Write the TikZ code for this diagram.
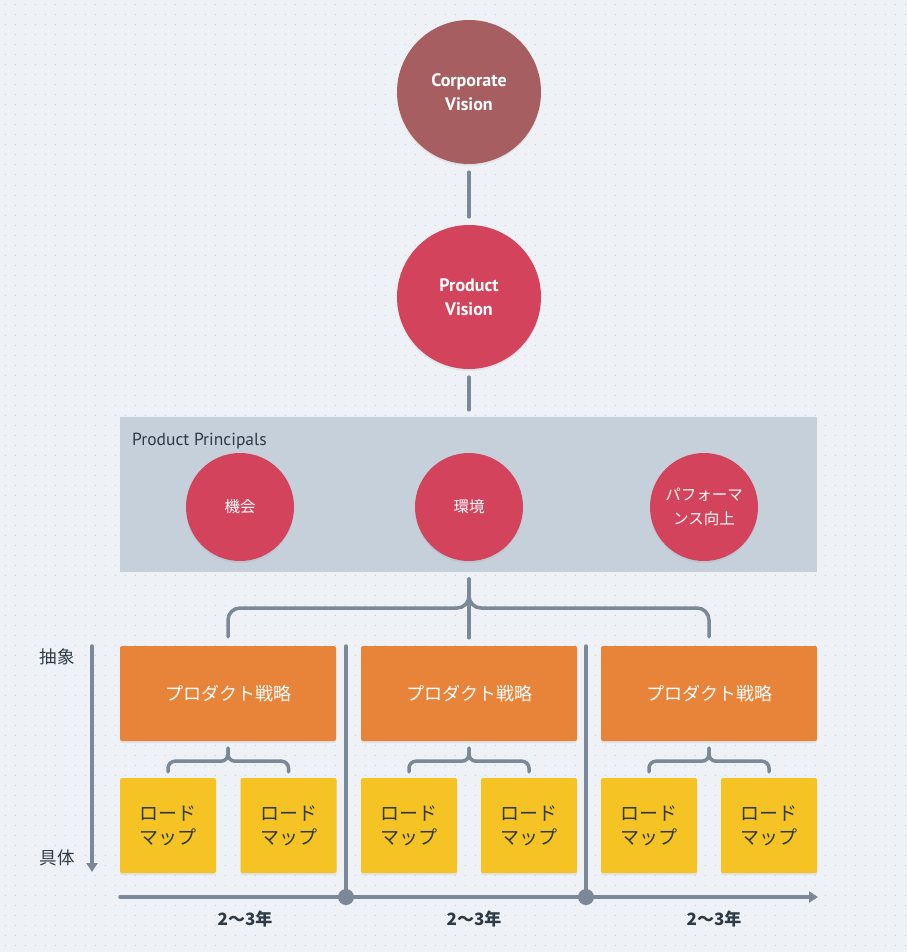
\documentclass[tikz,border=0pt]{standalone}
\usepackage{fontspec}
\setmainfont{PT Sans}
\newfontfamily\jp{Noto Sans CJK JP}
\usetikzlibrary{arrows.meta,shadows}
\definecolor{bgc}{HTML}{EEF2F6}
\definecolor{dotc}{HTML}{C9D1D9}
\definecolor{corp}{HTML}{A65E60}
\definecolor{prod}{HTML}{D3435B}
\definecolor{ppc}{HTML}{C5D0DB}
\definecolor{orng}{HTML}{E8833A}
\definecolor{yelw}{HTML}{F5C324}
\definecolor{linec}{HTML}{7A8898}
\definecolor{txtc}{HTML}{2E3A45}
\tikzset{
  shad/.style={drop shadow={opacity=0.12,shadow xshift=0pt,shadow yshift=-2pt}},
  circ/.style={circle,inner sep=0pt,text=white,align=center,shad},
  bigcirc/.style={circ,fill=#1,minimum size=144pt,font=\fontsize{18}{24}\selectfont\bfseries},
  smallcirc/.style={circ,fill=prod,minimum size=108pt,font=\jp\fontsize{15.5}{24}\selectfont},
  stratbox/.style={rectangle,rounded corners=2pt,fill=orng,minimum width=216pt,minimum height=95pt,text=white,font=\jp\fontsize{18}{22}\selectfont,shad},
  mapbox/.style={rectangle,rounded corners=2pt,fill=yelw,minimum width=96pt,minimum height=95pt,text=txtc,align=center,font=\jp\fontsize{19}{24}\selectfont,shad},
  conn/.style={draw=linec,line width=3.5pt,line cap=round},
  brace/.style={conn,rounded corners=#1},
  yearlbl/.style={text=txtc,font=\jp\fontsize{17}{20}\selectfont\bfseries},
  axlbl/.style={text=txtc,font=\jp\fontsize{17.5}{20}\selectfont},
}
\begin{document}
\begin{tikzpicture}[x=1pt,y=-1pt]
\useasboundingbox (0,0) rectangle (907,952);
\fill[bgc] (0,0) rectangle (907,952);
\foreach \yy in {5,15,...,945}
  \draw[dotc,line width=1pt,dash pattern=on 1pt off 9pt] (4.5,\yy) -- (907,\yy);

% top circles
\node[bigcirc=corp] (cv) at (469,92) {Corporate\\Vision};
\node[bigcirc=prod] (pv) at (469,297) {Product\\Vision};
\draw[conn] ([yshift=-8pt]cv.south) -- ([yshift=8pt]pv.north);

% principals
\node[rectangle,fill=ppc,minimum width=697pt,minimum height=155pt,inner sep=0pt] (pp) at (468.5,494.5) {};
\draw[conn] ([yshift=-8pt]pv.south) -- ([yshift=7pt]pp.north -| pv.south);
\node[anchor=west,text=txtc,font=\fontsize{17.5}{20}\selectfont,inner sep=0pt] (ppl) at (132,441) {Product Principals};
\node[smallcirc] (p1) at (240,507) {機会};
\node[smallcirc] (p2) at (469,507) {環境};
\node[smallcirc] (p3) at (704,507) {パフォーマ\\ンス向上};

% strategy boxes
\node[stratbox] (s1) at (228,693.5) {プロダクト戦略};
\node[stratbox] (s2) at (469,693.5) {プロダクト戦略};
\node[stratbox] (s3) at (709,693.5) {プロダクト戦略};

% big brace
\coordinate (bt) at (469,579);
\coordinate (bj) at (469,608);
\draw[conn] (bt) -- ([yshift=8pt]s2.north);
\draw[brace=12pt] ([yshift=9pt]s1.north) |- (bj) -- (bt);
\draw[brace=12pt] ([yshift=9pt]s3.north) |- (bj) -- (bt);

% roadmap boxes
\node[mapbox] (m11) at (168,825.5) {ロード\\マップ};
\node[mapbox] (m12) at (288.5,825.5) {ロード\\マップ};
\node[mapbox] (m21) at (409,825.5) {ロード\\マップ};
\node[mapbox] (m22) at (529,825.5) {ロード\\マップ};
\node[mapbox] (m31) at (649,825.5) {ロード\\マップ};
\node[mapbox] (m32) at (769,825.5) {ロード\\マップ};

% small braces
\foreach \s/\a/\b in {s1/m11/m12,s2/m21/m22,s3/m31/m32}{
  \coordinate (j\s) at ([yshift=-20pt]\s.south);
  \draw[brace=7pt] ([yshift=6pt]\a.north) |- (j\s) -- ([yshift=-7pt]\s.south);
  \draw[brace=7pt] ([yshift=6pt]\b.north) |- (j\s) -- ([yshift=-7pt]\s.south);
}

% separators and timeline
\coordinate (d1) at (346,897);
\coordinate (d2) at (586,897);
\coordinate (tl0) at (120,897);
\coordinate (tl1) at (818,897);
\draw[conn] (346,646) -- (d1);
\draw[conn] (586,646) -- (d2);
\draw[conn,-{Triangle[length=9pt,width=11pt]}] (tl0) -- (tl1);
\fill[linec] (d1) circle (8pt);
\fill[linec] (d2) circle (8pt);
\node[yearlbl] (y1) at (245,919) {2〜3年};
\node[yearlbl] (y2) at (474,919) {2〜3年};
\node[yearlbl] (y3) at (714,919) {2〜3年};

% abstraction axis
\coordinate (ax0) at (92,646);
\coordinate (ax1) at (92,872);
\draw[conn,-{Triangle[length=9pt,width=11pt]}] (ax0) -- (ax1);
\node[axlbl] (a1) at (57,657) {抽象};
\node[axlbl] (a2) at (57,858) {具体};
\end{tikzpicture}
\end{document}
